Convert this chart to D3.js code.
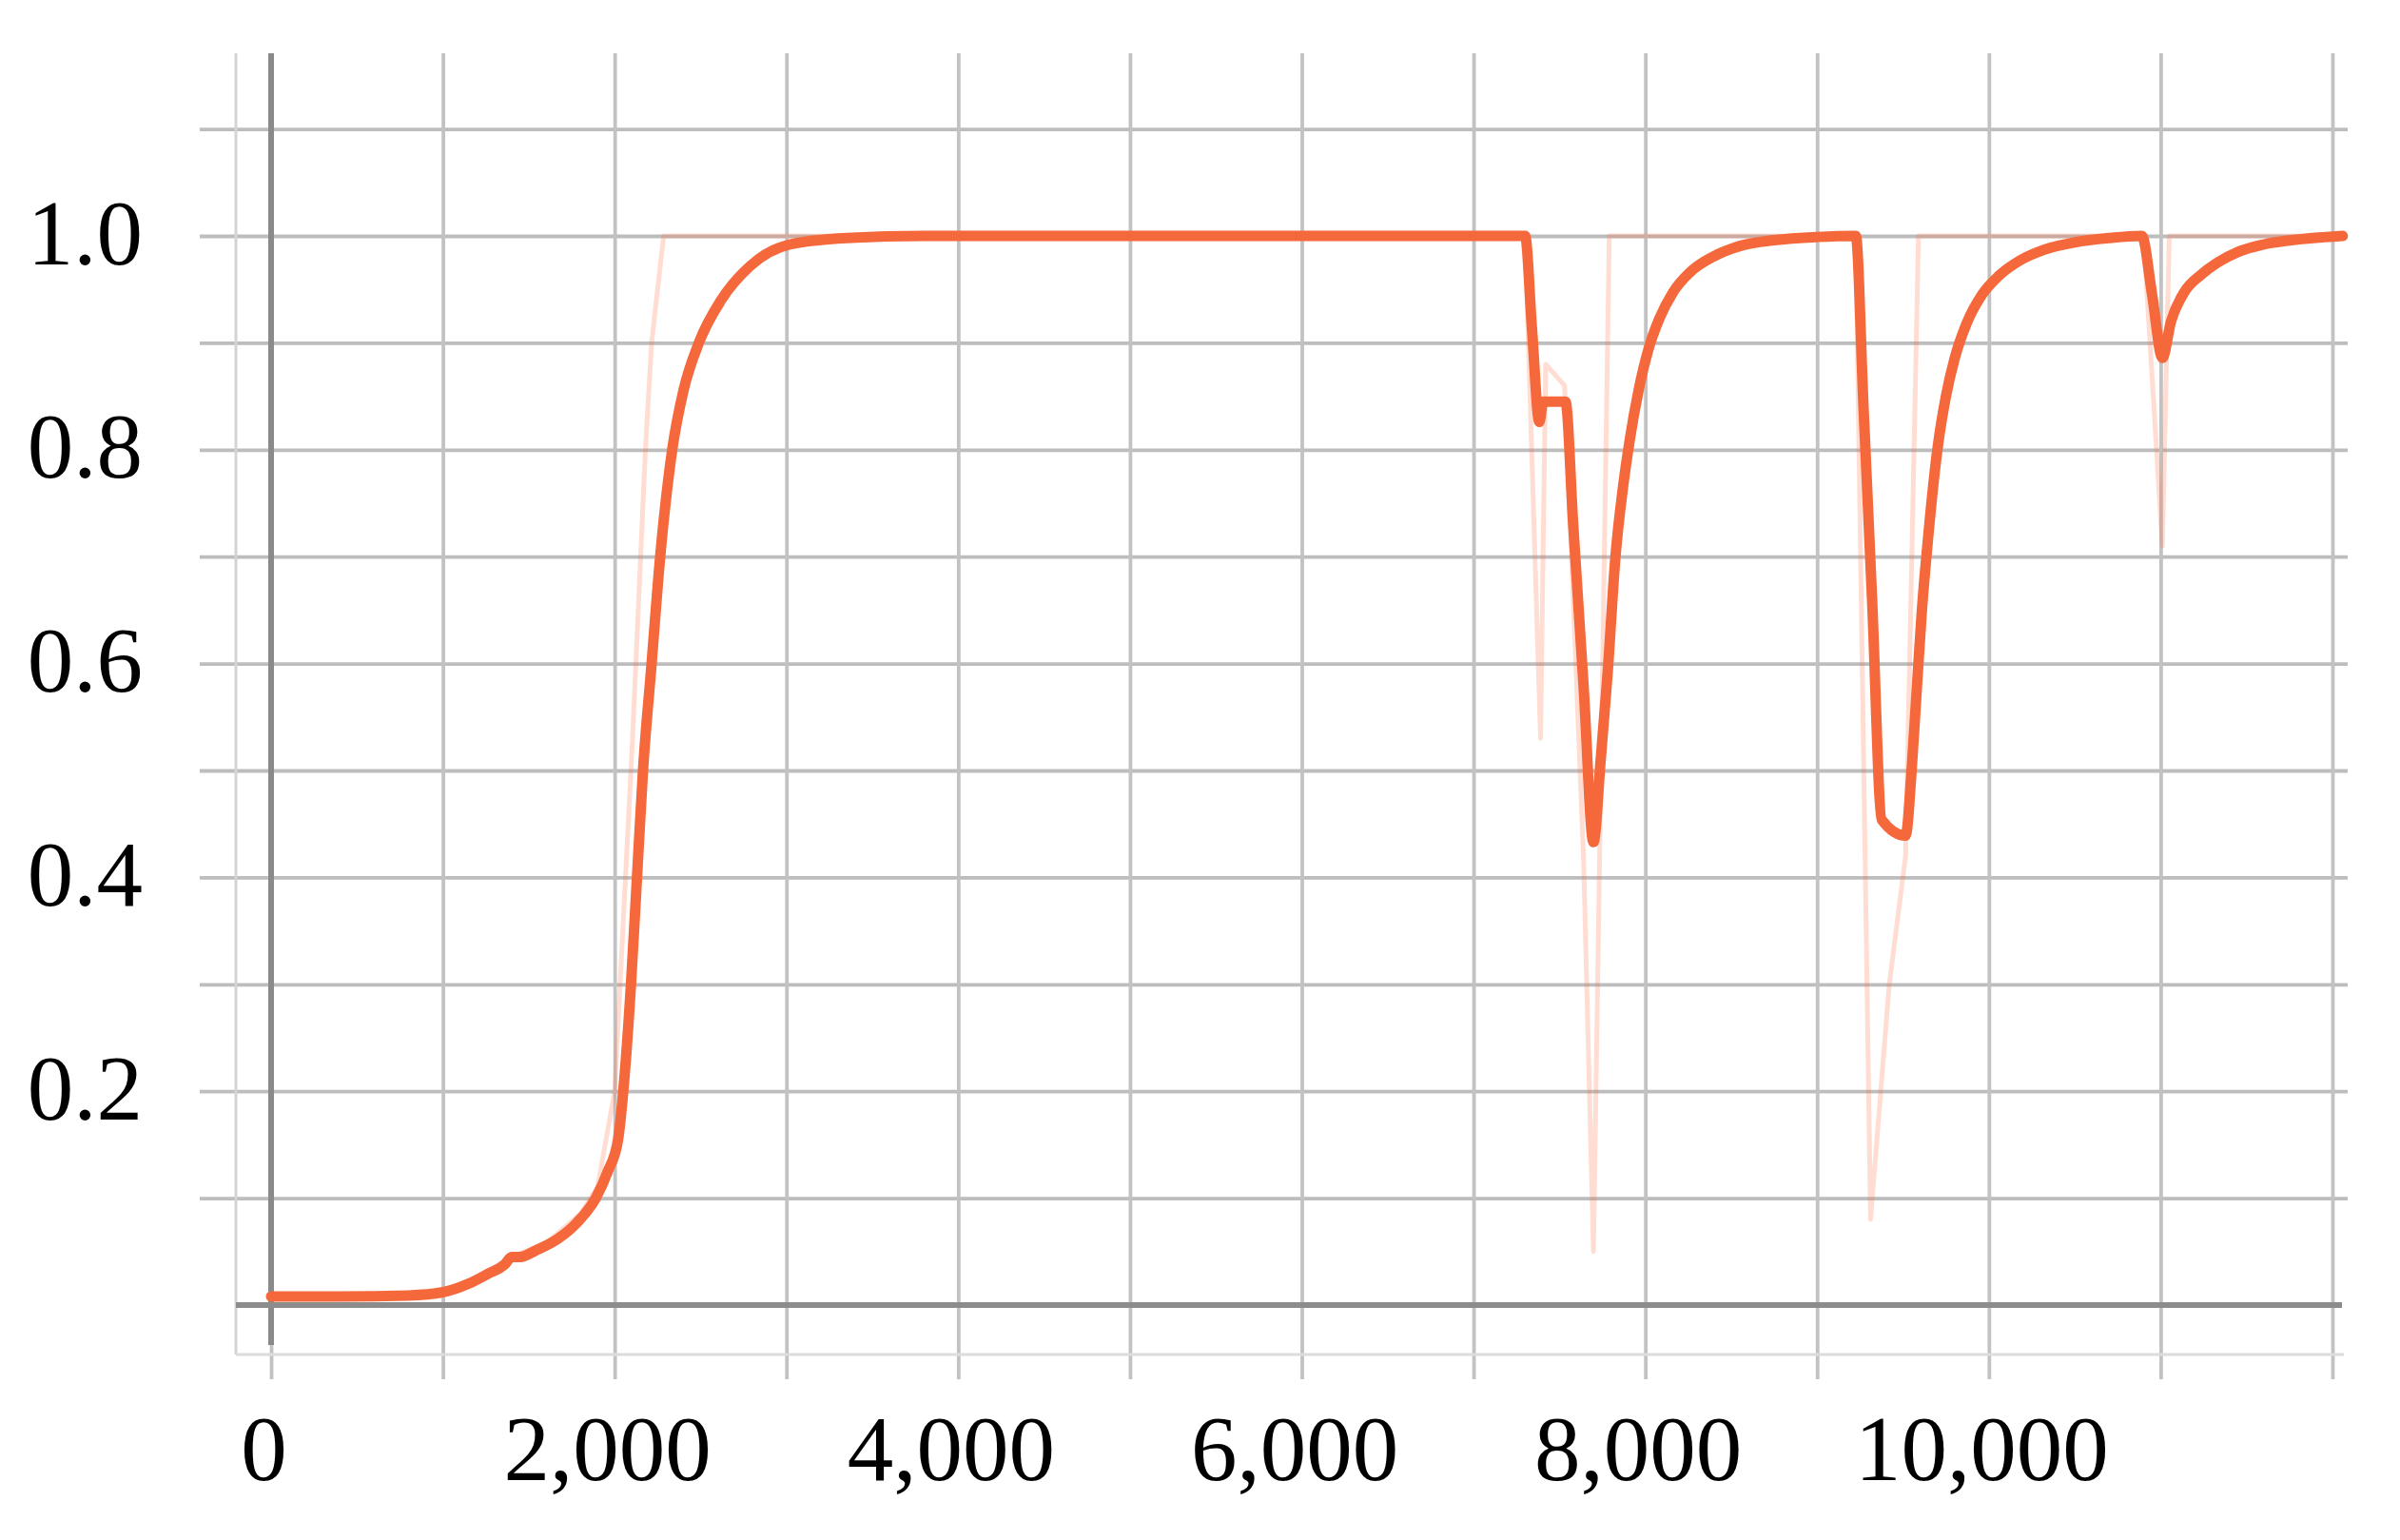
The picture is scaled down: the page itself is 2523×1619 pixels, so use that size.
<!DOCTYPE html>
<html>
<head>
<meta charset="utf-8">
<script src="https://cdn.jsdelivr.net/npm/d3@7"></script>
<style>
  html, body { margin: 0; padding: 0; background: #ffffff; }
  svg { display: block; }
  .lbl text { font-family: "Liberation Serif", "Times New Roman", serif; font-size: 97px; fill: #000; }
</style>
</head>
<body>
<script>
// ---- data ----
const smoothedSteps = [0, 400, 800, 1000, 1150, 1260, 1360, 1400, 1450, 1540, 1670, 1780, 1890, 1960, 2020, 2050, 2095, 2130, 2165, 2215, 2265, 2335, 2400, 2490, 2620, 2790, 3020, 3350, 3800,
  7300, 7340, 7383, 7405, 7535, 7580, 7640, 7698,
  7740, 7780, 7826, 7870, 7910, 7960, 8020, 8080, 8160, 8260, 8400, 8560, 8750, 9000,
  9225, 9270, 9320, 9376, 9515,
  9550, 9580, 9610, 9644, 9700, 9750, 9800, 9870, 9960, 10060, 10180, 10320, 10500, 10700,
  10890, 10950, 11010,
  11060, 11140, 11230, 11330, 11450, 11600, 11820, 12060];
const smoothedValues = [0.008, 0.008, 0.009, 0.012, 0.020, 0.029, 0.038, 0.045, 0.045, 0.051, 0.062, 0.077, 0.100, 0.125, 0.155, 0.20, 0.30, 0.40, 0.50, 0.60, 0.70, 0.80, 0.855, 0.90, 0.94, 0.972, 0.992, 0.998, 1.0,
  1.0, 0.913, 0.826, 0.845, 0.845, 0.73, 0.58, 0.433,
  0.51, 0.59, 0.70, 0.765, 0.81, 0.855, 0.895, 0.922, 0.947, 0.966, 0.981, 0.991, 0.996, 0.999,
  1.0, 0.84, 0.66, 0.454, 0.439,
  0.50, 0.576, 0.65, 0.714, 0.80, 0.85, 0.885, 0.918, 0.945, 0.963, 0.977, 0.987, 0.994, 0.998,
  1.0, 0.945, 0.886,
  0.92, 0.948, 0.963, 0.975, 0.985, 0.992, 0.997, 1.0];

const rawSteps = [0, 800, 1000, 1200, 1400, 1600, 1800, 1900, 2000, 2104, 2179, 2215, 2285,
  7300, 7390, 7420, 7530, 7640, 7698, 7790,
  9225, 9311, 9420, 9515, 9590,
  10900, 11010, 11050, 12060];
const rawValues = [0.008, 0.009, 0.014, 0.026, 0.045, 0.058, 0.085, 0.11, 0.20, 0.53, 0.80, 0.90, 1.0,
  1.0, 0.53, 0.88, 0.86, 0.42, 0.05, 1.0,
  1.0, 0.08, 0.30, 0.42, 1.0,
  1.0, 0.71, 1.0, 1.0];

const xGridValues = [0, 1000, 2000, 3000, 4000, 5000, 6000, 7000, 8000, 9000, 10000, 11000, 12000];
const yGridValues = [0.1, 0.2, 0.3, 0.4, 0.5, 0.6, 0.7, 0.8, 0.9, 1.0, 1.1];
const xTickLabels = [0, 2000, 4000, 6000, 8000, 10000];
const yTickLabels = [0.2, 0.4, 0.6, 0.8, 1.0];

// ---- layout ----
const W = 2523, H = 1619;
const svg = d3.select("body").append("svg").attr("width", W).attr("height", H);

const x = d3.scaleLinear().domain([0, 12000]).range([285, 2452]);
const y = d3.scaleLinear().domain([0, 1]).range([1372, 248]);

const gridTop = 56, gridBottom = 1450, gridLeft = 210, gridRight = 2468;
const frameLeft = 248, frameBottom = 1424;

// horizontal gridlines
const yGrid = svg.append("g")
  .attr("transform", `translate(${gridLeft},0)`)
  .call(d3.axisLeft(y).tickValues(yGridValues).tickSize(-(gridRight - gridLeft)).tickFormat(""));
yGrid.select(".domain").remove();
yGrid.selectAll("line").attr("stroke", "#bdbdbd").attr("stroke-width", 3.8);

// vertical gridlines
const xGrid = svg.append("g")
  .attr("transform", `translate(0,${gridBottom})`)
  .call(d3.axisBottom(x).tickValues(xGridValues).tickSize(-(gridBottom - gridTop)).tickFormat(""));
xGrid.select(".domain").remove();
xGrid.selectAll("line").attr("stroke", "#c2c2c2").attr("stroke-width", 3.8);

// frame
svg.append("line").attr("x1", frameLeft).attr("x2", frameLeft).attr("y1", gridTop).attr("y2", frameBottom)
  .attr("stroke", "#d4d4d4").attr("stroke-width", 3);
svg.append("line").attr("x1", frameLeft).attr("x2", gridRight - 4).attr("y1", frameBottom).attr("y2", frameBottom)
  .attr("stroke", "#dcdcdc").attr("stroke-width", 3);

// zero axes (darker)
svg.append("line").attr("x1", x(0)).attr("x2", x(0)).attr("y1", gridTop).attr("y2", frameBottom - 10)
  .attr("stroke", "#8a8a8a").attr("stroke-width", 6);
svg.append("line").attr("x1", frameLeft).attr("x2", gridRight - 6).attr("y1", y(0)).attr("y2", y(0))
  .attr("stroke", "#8c8c8c").attr("stroke-width", 6);

// raw series (faint)
const rawData = rawSteps.map((s, i) => [s, rawValues[i]]);
svg.append("path")
  .datum(rawData)
  .attr("fill", "none")
  .attr("stroke", "#ff7043")
  .attr("stroke-opacity", 0.24)
  .attr("stroke-width", 5)
  .attr("stroke-linejoin", "round")
  .attr("d", d3.line().x(d => x(d[0])).y(d => y(d[1])));

// smoothed series
const smoothData = smoothedSteps.map((s, i) => [s, smoothedValues[i]]);
svg.append("path")
  .datum(smoothData)
  .attr("fill", "none")
  .attr("stroke", "#f4683c")
  .attr("stroke-width", 11)
  .attr("stroke-linejoin", "round")
  .attr("stroke-linecap", "round")
  .attr("d", d3.line().curve(d3.curveMonotoneX).x(d => x(d[0])).y(d => y(d[1])));

// y labels
const yAx = svg.append("g").attr("class", "lbl")
  .attr("transform", "translate(150,-2)")
  .call(d3.axisLeft(y).tickValues(yTickLabels).tickSize(0).tickPadding(0).tickFormat(d3.format(".1f")));
yAx.select(".domain").remove();

// x labels
const xAx = svg.append("g").attr("class", "lbl")
  .attr("transform", "translate(0,1487)")
  .call(d3.axisBottom(x).tickValues(xTickLabels).tickSize(0).tickPadding(0).tickFormat(d3.format(",")));
xAx.select(".domain").remove();
xAx.selectAll("text").attr("dx", -8);
svg.selectAll(".lbl text").attr("font-family", null).attr("font-size", null);
</script>
</body>
</html>
